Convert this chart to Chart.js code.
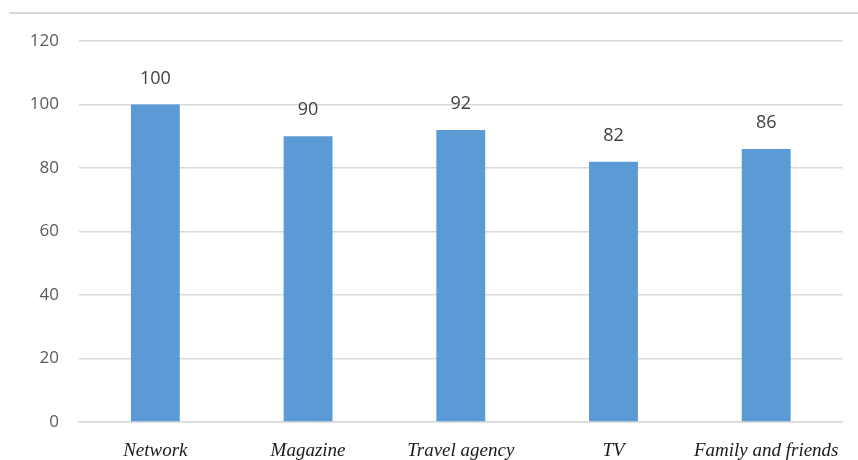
<!DOCTYPE html>
<html>
<head>
<meta charset="utf-8">
<script src="https://cdn.jsdelivr.net/npm/chart.js@4.4.0/dist/chart.umd.min.js"></script>
<style>
  html, body { margin: 0; padding: 0; background: #fff; }
</style>
</head>
<body>
<canvas id="myChart" width="858" height="460"></canvas>
<script>
var sources = ['Network', 'Magazine', 'Travel agency', 'TV', 'Family and friends']
var counts = [100, 90, 92, 82, 86]
var yTicks = [0, 20, 40, 60, 80, 100, 120]

// draws the value above each bar and the thin frame line at the top
var barLabels = {
    id: 'barLabels',
    beforeDraw: function(chart){
        var ctx = chart.ctx
        ctx.save()
        ctx.strokeStyle = '#d9d9d9'
        ctx.lineWidth = 2
        ctx.beginPath()
        ctx.moveTo(9, 13)
        ctx.lineTo(858, 13)
        ctx.stroke()
        ctx.restore()
    },
    afterDatasetsDraw: function(chart){
        var ctx = chart.ctx
        var meta = chart.getDatasetMeta(0)
        ctx.save()
        ctx.fillStyle = '#404040'
        ctx.font = '18px "Open Sans", sans-serif'
        ctx.textAlign = 'center'
        ctx.textBaseline = 'middle'
        meta.data.forEach(function(bar, i){
            ctx.fillText(counts[i], bar.x, bar.y - 26)
        })
        ctx.restore()
    }
}

var ctx = document.getElementById('myChart').getContext('2d');
var myChart = new Chart(ctx, {
    type: 'bar',
    data: {
        labels: sources,
        datasets: [{
            label: 'Sources',
            data: counts,
            backgroundColor: '#5b9bd5',
            categoryPercentage: 1,
            barPercentage: 0.32
        }]
    },
    options: {
        responsive: false,
        animation: false,
        layout: { padding: { left: 0, right: 15, top: 41, bottom: 0 } },
        plugins: {
            legend: { display: false },
            tooltip: { enabled: false }
        },
        scales: {
            x: {
                afterFit: function(scale){ scale.height = 38 },
                grid: { display: false, drawTicks: false },
                border: { display: true, color: '#d9d9d9', width: 1.5 },
                ticks: {
                    padding: 18,
                    color: '#1a1a1a',
                    font: { family: '"Liberation Serif", serif', style: 'italic', size: 19 }
                }
            },
            y: {
                min: 0,
                max: 120,
                afterFit: function(scale){ scale.width = 79 },
                afterBuildTicks: function(scale){
                    scale.ticks = yTicks.map(function(v){ return { value: v } })
                },
                grid: { color: '#d9d9d9', lineWidth: 1.5, drawTicks: false },
                border: { display: false },
                ticks: {
                    padding: 20,
                    color: '#595959',
                    font: { family: '"Open Sans", sans-serif', size: 17 }
                }
            }
        }
    },
    plugins: [barLabels]
});
</script>
</body>
</html>
